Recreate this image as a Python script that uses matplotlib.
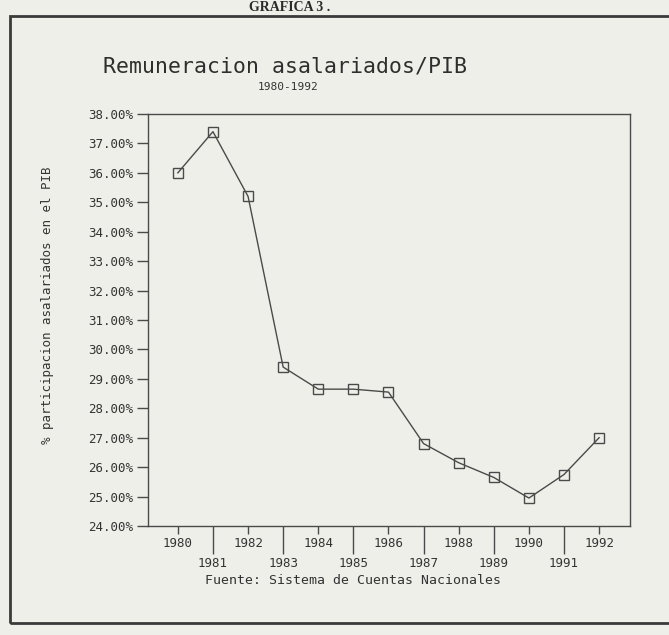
import matplotlib
matplotlib.use("Agg")
import matplotlib.pyplot as plt
from matplotlib.patches import Rectangle
from matplotlib.ticker import FixedLocator, FuncFormatter

years = [1980, 1981, 1982, 1983, 1984, 1985, 1986, 1987, 1988, 1989, 1990, 1991, 1992]
share = [36.0, 37.4, 35.2, 29.4, 28.65, 28.65, 28.55, 26.8, 26.15, 25.65, 24.95, 25.75, 27.0]
yticks = [24, 25, 26, 27, 28, 29, 30, 31, 32, 33, 34, 35, 36, 37, 38]
even_years = [y for y in years if y % 2 == 0]
odd_years = [y for y in years if y % 2 == 1]

title = "Remuneracion asalariados/PIB"
subtitle = "1980-1992"
ylabel = "% participacion asalariados en el PIB"
source = "Fuente: Sistema de Cuentas Nacionales"
header = "GRAFICA 3 ."

W, H = 669, 635
bg = "#efefea"
ink = "#4a4a4a"
mono = "DejaVu Sans Mono"

fig = plt.figure(figsize=(W / 100, H / 100), dpi=100, facecolor=bg)

# outer frame (left, top, bottom visible; right runs off the page)
fig.patches.append(Rectangle((10 / W, 1 - 623 / H), 700 / W, (623 - 16) / H,
                             transform=fig.transFigure, fill=False,
                             edgecolor="#3a3a3a", linewidth=2.0))

fig.text(290 / W, 1 - 1 / H, header, ha="center", va="top", fontsize=10,
         fontweight="bold", family="Liberation Serif", color="#2a2a2a")

L, R, T, B = 148, 630, 114, 526
ax = fig.add_axes([L / W, 1 - B / H, (R - L) / W, (B - T) / H])
ax.set_facecolor("none")
ax.plot(years, share, color=ink, linewidth=1.0, marker="s", markersize=7,
        markerfacecolor="none", markeredgecolor=ink, markeredgewidth=1.0)

ax.set_xlim(1979.15, 1992.88)
ax.set_ylim(24, 38)
for s in ax.spines.values():
    s.set_color(ink)
    s.set_linewidth(1.0)

ax.yaxis.set_major_locator(FixedLocator(yticks))
ax.yaxis.set_major_formatter(FuncFormatter(lambda v, p: f"{v:.2f}%"))
ax.tick_params(axis="y", direction="out", length=8, width=1.0, color=ink,
               labelsize=9, labelcolor="#333333", pad=3)
for lab in ax.get_yticklabels():
    lab.set_family(mono)

ax.xaxis.set_major_locator(FixedLocator(even_years))
ax.xaxis.set_minor_locator(FixedLocator(odd_years))
ax.xaxis.set_major_formatter(FuncFormatter(lambda v, p: f"{int(round(v))}"))
ax.xaxis.set_minor_formatter(FuncFormatter(lambda v, p: f"{int(round(v))}"))
ax.tick_params(axis="x", which="major", direction="out", length=6, width=1.0,
               color=ink, labelsize=9, labelcolor="#333333", pad=2)
ax.tick_params(axis="x", which="minor", direction="out", length=20, width=1.0,
               color=ink, labelsize=9, labelcolor="#333333", pad=2)
for lab in ax.get_xticklabels(which="both"):
    lab.set_family(mono)

fig.text(285 / W, 1 - 67 / H, title, ha="center", va="center", fontsize=15.5,
         family=mono, color="#2e2e2e")
fig.text(288 / W, 1 - 87 / H, subtitle, ha="center", va="center", fontsize=8,
         family=mono, color="#333333")
fig.text(48 / W, 1 - 305 / H, ylabel, ha="center", va="center", rotation=90,
         fontsize=9, family=mono, color="#333333")
fig.text(353 / W, 1 - 580 / H, source, ha="center", va="center", fontsize=9.5,
         family=mono, color="#333333")

fig.savefig("out.png", dpi=100, facecolor=bg)
